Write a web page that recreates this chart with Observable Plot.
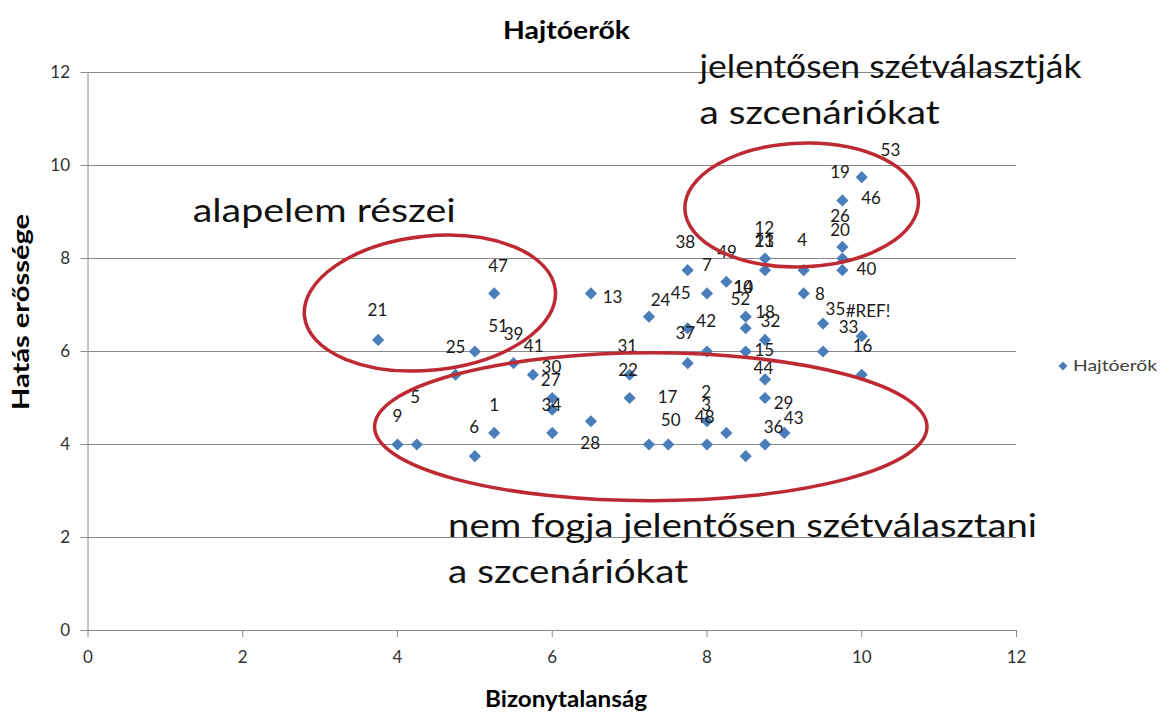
<!DOCTYPE html>
<html><head><meta charset="utf-8">
<script src="https://cdn.jsdelivr.net/npm/d3@7"></script>
<script src="https://cdn.jsdelivr.net/npm/@observablehq/plot@0.6"></script>
<style>
body{margin:0;background:#fff;}
#chart{position:relative;width:1163px;height:715px;}
</style></head><body><div id="chart"></div>
<script>
// ---- data ----
const pointX = [3.75,5.25,6.5,5,5.5,4.75,5.75,6,6,6.5,5.25,6,4,4.25,5,8.75,8.75,9.25,7.75,8.25,8,9.25,7.25,8.5,8.5,7.75,8.75,8,8.5,7.75,7,8.75,7,8.75,8,8.25,9,7.25,7.5,8,8.75,8.5,10,9.75,9.75,9.75,9.75,9.5,10,9.5,10];
const pointY = [6.25,7.25,7.25,6,5.75,5.5,5.5,5,4.75,4.5,4.25,4.25,4,4,3.75,8,7.75,7.75,7.75,7.5,7.25,7.25,6.75,6.75,6.5,6.5,6.25,6,6,5.75,5.5,5.4,5,5,4.5,4.25,4.25,4,4,4,4,3.75,9.75,9.25,8.25,8,7.75,6.6,6.33,6,5.5];

const labelText = ["53","19","46","26","20","12","23","11","4","40","38","49","7","10","14","52","45","24","13","8","35","#REF!","33","18","32","42","37","16","15","44","31","22","29","43","36","2","3","48","17","50","28","30","27","34","1","6","5","9","41","51","39","25","21","47"];
const labelX = [10.37,9.72,10.12,9.72,9.72,8.74,8.74,8.74,9.23,10.06,7.72,8.26,8.0,8.47,8.47,8.43,7.66,7.40,6.78,9.46,9.66,10.08,9.83,8.75,8.82,7.99,7.72,10.01,8.74,8.73,6.97,6.98,8.99,9.12,8.86,7.99,7.99,7.97,7.49,7.53,6.49,5.99,5.98,5.99,5.25,4.99,4.23,4.0,5.76,5.30,5.50,4.75,3.74,5.30];
const labelY = [10.32,9.85,9.29,8.90,8.60,8.65,8.37,8.37,8.39,7.76,8.34,8.13,7.85,7.38,7.38,7.12,7.25,7.10,7.16,7.23,6.90,6.86,6.52,6.84,6.65,6.65,6.39,6.11,6.02,5.63,6.11,5.59,4.88,4.56,4.37,5.12,4.84,4.58,5.01,4.52,4.02,5.66,5.38,4.84,4.84,4.37,5.01,4.60,6.11,6.54,6.37,6.09,6.88,7.83];

const xTicks = [0,2,4,6,8,10,12];
const yTicks = [0,2,4,6,8,10,12];

const seriesName = "Hajtóerők";
const chartTitle = "Hajtóerők";
const xTitle = "Bizonytalanság";
const yTitle = "Hatás erőssége";

// annotation ellipses (data units): center x, center y, radius x, radius y, angle
const ellipseCX = [4.425, 9.23, 7.28];
const ellipseCY = [7.03, 9.14, 4.37];
const ellipseRX = [1.63, 1.51, 3.57];
const ellipseRY = [1.44, 1.33, 1.59];
const ellipseAngle = [-6, -2, 0];

// annotation texts (data units, start / baseline)
const noteText = ["jelentősen szétválasztják","a szcenáriókat","alapelem részei","nem fogja jelentősen szétválasztani","a szcenáriókat"];
const noteX = [7.91, 7.91, 1.36, 4.66, 4.66];
const noteY = [11.87, 10.88, 8.77, 2.0, 1.01];
const noteWidth = [382, 240, 263, 589, 240];

// ---- build ----
const points = pointX.map((x,i)=>({x, y: pointY[i]}));
const labels = labelText.map((t,i)=>({t, x: labelX[i], y: labelY[i]}));
const FONT = "Lato, 'Open Sans', sans-serif";

const plot = Plot.plot({
  width: 1163, height: 715,
  marginLeft: 87.5, marginRight: 147, marginTop: 72, marginBottom: 85,
  style: {fontFamily: FONT, background: "#fff", overflow: "visible"},
  x: {domain: [0, 12]},
  y: {domain: [0, 12]},
  marks: [
    Plot.gridY(yTicks.filter(d => d > 0), {stroke: "#8a8a8a", strokeOpacity: 1, strokeWidth: 1}),
    Plot.ruleX([0], {stroke: "#8a8a8a"}),
    Plot.ruleY([0], {stroke: "#8a8a8a"}),
    Plot.axisX(xTicks, {tickSize: 7, tickPadding: 13, fontSize: 17, stroke: "#8a8a8a", fill: "#333", label: null}),
    Plot.axisY(yTicks, {tickSize: 7, tickPadding: 11, fontSize: 17, stroke: "#8a8a8a", fill: "#333", label: null}),
    Plot.dot(points, {x: "x", y: "y", symbol: "diamond2", r: 5.5, fill: "#4a7ebb", stroke: "none"}),
    Plot.text(labels, {x: "x", y: "y", text: "t", fontSize: 17, fill: "#1a1a1a", textAnchor: "middle", lineAnchor: "middle"})
  ]
});

document.getElementById("chart").appendChild(plot);

const svg = d3.select(plot);
const sx = plot.scale("x"), sy = plot.scale("y");

// ellipses
ellipseCX.forEach((cx, i) => {
  const px = sx.apply(cx), py = sy.apply(ellipseCY[i]);
  const rx = Math.abs(sx.apply(cx + ellipseRX[i]) - px);
  const ry = Math.abs(sy.apply(ellipseCY[i] + ellipseRY[i]) - py);
  svg.append("ellipse")
    .attr("cx", px).attr("cy", py).attr("rx", rx).attr("ry", ry)
    .attr("transform", `rotate(${ellipseAngle[i]},${px},${py})`)
    .attr("fill", "none").attr("stroke", "#be2a33").attr("stroke-width", 3.5);
});

function addText(t, attrs) {
  const el = svg.append("text").text(t)
    .attr("font-family", FONT).attr("text-anchor", "start").attr("fill", "#111");
  for (const k in attrs) el.attr(k, attrs[k]);
  return el;
}

// annotation texts
noteText.forEach((t, i) => {
  addText(t, {x: sx.apply(noteX[i]), y: sy.apply(noteY[i]), "font-size": 32,
    textLength: noteWidth[i], lengthAdjust: "spacingAndGlyphs"});
});

// titles
addText(chartTitle, {x: 503, y: 39, "font-weight": "bold", "font-size": 25, fill: "#000",
  textLength: 127, lengthAdjust: "spacingAndGlyphs"});
addText(xTitle, {x: 485, y: 707, "font-weight": "bold", "font-size": 22, fill: "#000",
  textLength: 162, lengthAdjust: "spacingAndGlyphs"});
addText(yTitle, {transform: "translate(29,410) rotate(-90)", "font-weight": "bold", "font-size": 23, fill: "#000",
  textLength: 196, lengthAdjust: "spacingAndGlyphs"});

// legend
svg.append("path").attr("d", d3.symbol(d3.symbolDiamond2, 50)()).attr("transform", "translate(1063,366)").attr("fill", "#4a7ebb");
addText(seriesName, {x: 1073, y: 371, "font-size": 15, fill: "#404040", textLength: 84, lengthAdjust: "spacingAndGlyphs"});
</script>
</body></html>
